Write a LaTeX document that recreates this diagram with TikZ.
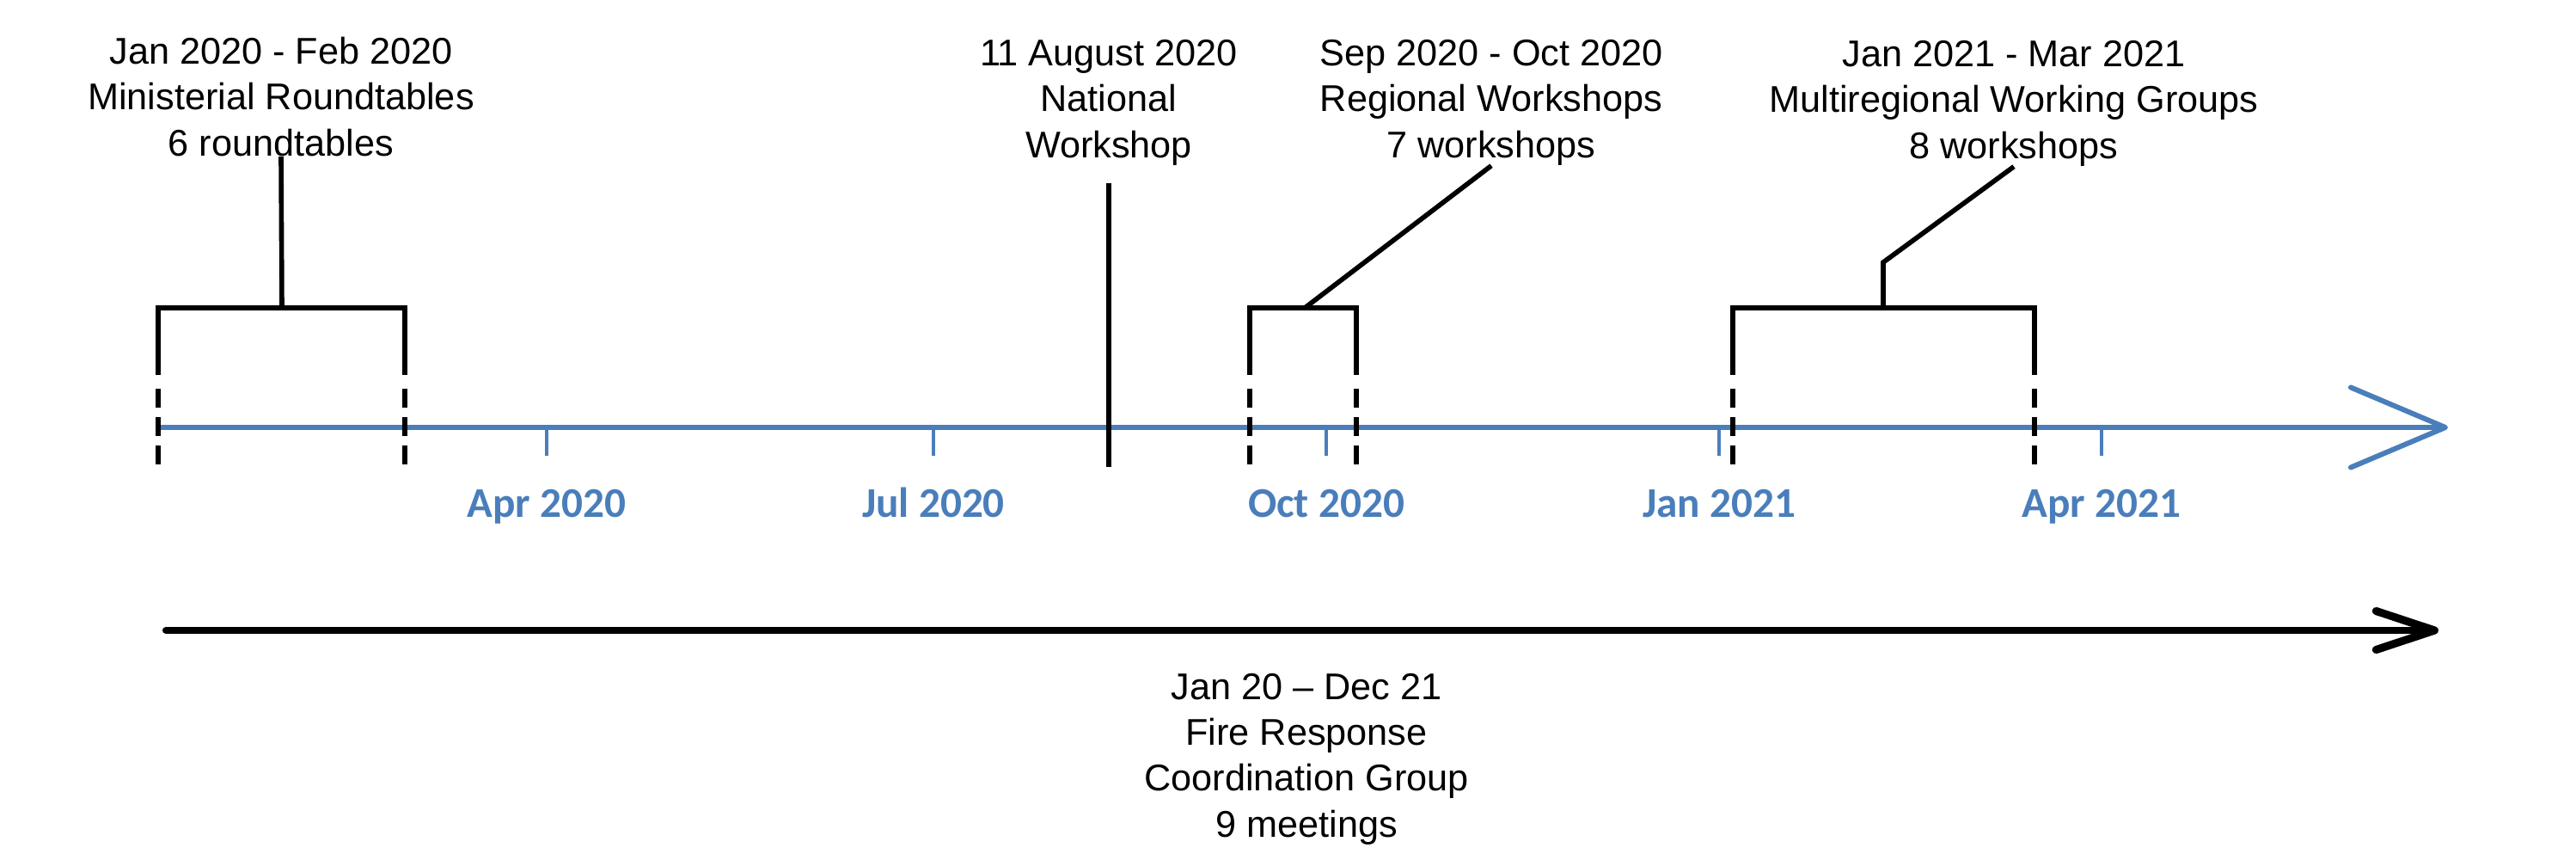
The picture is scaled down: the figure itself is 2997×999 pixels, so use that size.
\documentclass[tikz,border=0pt]{standalone}
\usepackage{fontspec}
\setmainfont{Liberation Sans}
\newfontfamily\mthfont{Carlito}
\usetikzlibrary{arrows.meta,positioning}
\definecolor{axisblue}{RGB}{74,126,187}

\begin{document}
\begin{tikzpicture}[x=0.01cm,y=-0.01cm,
    event/.style={align=center,anchor=base,inner sep=0pt,
                  font=\fontsize{12.3}{15.1}\selectfont},
    month/.style={anchor=base,inner sep=0pt,text=axisblue,
                  font=\mthfont\bfseries\fontsize{14}{16}\selectfont},
    brace/.style={line width=1.6pt},
    dashend/.style={brace,dash pattern=on 0.22cm off 0.11cm},
    tick/.style={draw=axisblue,line width=1.4pt}]
  \useasboundingbox (0,0) rectangle (2997,999);

  % time axis
  \coordinate (ax0) at (184,497);
  \coordinate (ax1) at (2848,497);
  \draw[axisblue,line width=1.6pt,
        -{Straight Barb[length=1.1cm,width=0.93cm,line width=1.7pt,round]}]
        (ax0) -- (ax1);
  \foreach \x/\name/\txt in {636/apr20/Apr 2020,1086/jul20/Jul 2020,
                             1543/oct20/Oct 2020,2000/jan21/Jan 2021,
                             2445/apr21/Apr 2021} {
    \coordinate (t\name) at (\x,497);
    \coordinate (b\name) at (\x,530);
    \draw[tick] (t\name) -- (b\name);
    \node[month] (\name) at (\x,601) {\txt};
  }

  % labels (base = last line)
  \node[event] (minlbl) at (327,181)  {Jan 2020 - Feb 2020\\Ministerial Roundtables\\6 roundtables};
  \node[event] (natlbl) at (1290,183) {11 August 2020\\National\\Workshop};
  \node[event] (reglbl) at (1735,183) {Sep 2020 - Oct 2020\\Regional Workshops\\7 workshops};
  \node[event] (mullbl) at (2343,184) {Jan 2021 - Mar 2021\\Multiregional Working Groups\\8 workshops};
  \node[event] (frlbl)  at (1520,973) {Jan 20 – Dec 21\\Fire Response\\Coordination Group\\9 meetings};

  % brackets
  \foreach \n/\l/\r in {min/184/471,reg/1454/1578,mul/2016/2367} {
    \coordinate (\n-ls) at (\l,436);
    \coordinate (\n-lt) at (\l,358);
    \coordinate (\n-rt) at (\r,358);
    \coordinate (\n-rs) at (\r,436);
    \coordinate (\n-ld) at (\l,452);
    \coordinate (\n-le) at (\l,543);
    \coordinate (\n-rd) at (\r,452);
    \coordinate (\n-re) at (\r,543);
    \draw[brace] (\n-ls) -- (\n-lt) -- (\n-rt) -- (\n-rs);
    \draw[dashend] (\n-ld) -- (\n-le);
    \draw[dashend] (\n-rd) -- (\n-re);
  }
  \coordinate (minstem) at (328,358);
  \coordinate (regstem) at (1518,358);
  \coordinate (mulstem) at (2191,358);
  \coordinate (mulknee) at (2191,305);
  \coordinate (nattop) at (1290,213);
  \coordinate (natbot) at (1290,543);

  \draw[brace] (minstem) -- (minlbl.south);
  \draw[brace] (regstem) -- (reglbl.south);
  \draw[brace] (mulstem) -- (mulknee) -- (mullbl.south);
  \draw[brace] (nattop) -- (natbot);

  % coordination group
  \coordinate (fr0) at (193,733);
  \coordinate (fr1) at (2837,733);
  \draw[line width=2.3pt,line cap=round,
        -{Straight Barb[length=0.68cm,width=0.45cm,line width=2.6pt,round]}]
        (fr0) -- (fr1);
\end{tikzpicture}
\end{document}
